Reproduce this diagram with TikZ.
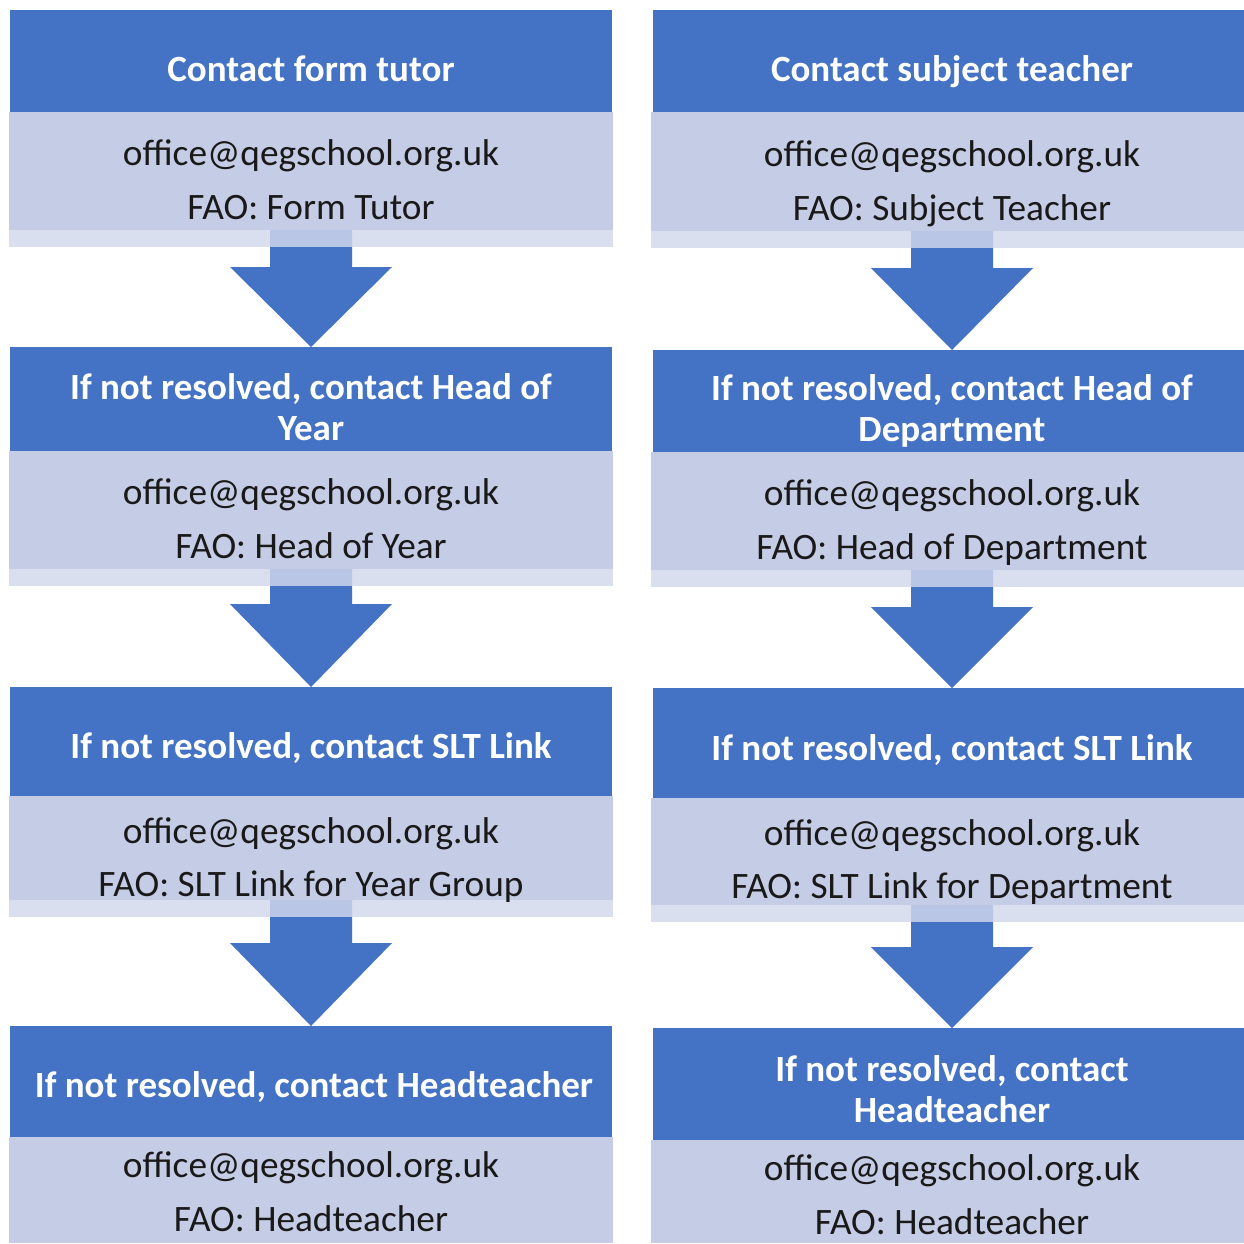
\documentclass[tikz,border=0pt]{standalone}
\usepackage{fontspec}
\setmainfont{Carlito}
\definecolor{hdr}{RGB}{68,114,196}
\definecolor{bdy}{RGB}{197,205,230}
\definecolor{strp}{RGB}{211,217,237}
\newcommand\qbody[4]{\fill[bdy] (#1,#3) rectangle (#2,#4);}
\newcommand\qstrip[4]{\fill[strp,fill opacity=0.82] (#1,#3) rectangle (#2,#4);}
\newcommand\qhead[4]{\fill[hdr] (#1,#3) rectangle (#2,#4);}
\newcommand\qarrow[4]{\fill[hdr] (#1-41,#2) -- (#1+41,#2) -- (#1+41,#3) -- (#1+81,#3) -- (#1,#4) -- (#1-81,#3) -- (#1-41,#3) -- cycle;}
\begin{document}
\begin{tikzpicture}[x=1pt,y=-1pt,
  htxt/.style={text=white,font=\fontsize{37}{41}\selectfont\bfseries,align=center,inner sep=0pt},
  btxt/.style={text=black!90,font=\fontsize{37.3}{40}\selectfont,inner sep=0pt}]
\useasboundingbox (0,0) rectangle (1244,1243);
\fill[white] (0,0) rectangle (1244,1243);
% ---- left column ----
\qbody{9}{613}{112}{230}
\qbody{9}{613}{451}{569}
\qbody{9}{613}{796}{900}
\qbody{9}{613}{1137}{1243}
\qarrow{311}{230}{267}{347}
\qarrow{311}{569}{604}{687}
\qarrow{311}{900}{943}{1026}
\qstrip{9}{613}{230}{247}
\qstrip{9}{613}{569}{586}
\qstrip{9}{613}{900}{917}
\qhead{10}{612}{10}{112}
\qhead{10}{612}{347}{451}
\qhead{10}{612}{687}{796}
\qhead{10}{612}{1026}{1137}
% ---- right column ----
\qbody{651}{1244}{112}{231}
\qbody{651}{1244}{452}{570}
\qbody{651}{1244}{798}{905}
\qbody{651}{1244}{1140}{1243}
\qarrow{952}{231}{268}{350}
\qarrow{952}{570}{607}{688}
\qarrow{952}{905}{947}{1028}
\qstrip{651}{1244}{231}{248}
\qstrip{651}{1244}{570}{587}
\qstrip{651}{1244}{905}{922}
\qhead{653}{1244}{10}{112}
\qhead{653}{1244}{350}{452}
\qhead{653}{1244}{688}{798}
\qhead{653}{1244}{1028}{1140}
% ---- texts left ----
\node[htxt] (L1h) at (311,69) {Contact form tutor};
\node[btxt] (L1a) at (311,156) {office@qegschool.org.uk};
\node[btxt] (L1b) at (311,208) {FAO: Form Tutor};
\node[htxt] (L2h) at (311,407) {If not resolved, contact Head of\\Year};
\node[btxt] (L2a) at (311,495) {office@qegschool.org.uk};
\node[btxt] (L2b) at (311,546) {FAO: Head of Year};
\node[htxt] (L3h) at (311,748) {If not resolved, contact SLT Link};
\node[btxt] (L3a) at (311,834) {office@qegschool.org.uk};
\node[btxt] (L3b) at (311,887) {FAO: SLT Link for Year Group};
\node[htxt] (L4h) at (314,1087) {If not resolved, contact Headteacher};
\node[btxt] (L4a) at (311,1168) {office@qegschool.org.uk};
\node[btxt] (L4b) at (311,1219) {FAO: Headteacher};
% ---- texts right ----
\node[htxt] (R1h) at (952,72) {Contact subject teacher};
\node[btxt] (R1a) at (952,157) {office@qegschool.org.uk};
\node[btxt] (R1b) at (952,211) {FAO: Subject Teacher};
\node[htxt] (R2h) at (952,411) {If not resolved, contact Head of\\Department};
\node[btxt] (R2a) at (952,496) {office@qegschool.org.uk};
\node[btxt] (R2b) at (952,550) {FAO: Head of Department};
\node[htxt] (R3h) at (952,750) {If not resolved, contact SLT Link};
\node[btxt] (R3a) at (952,836) {office@qegschool.org.uk};
\node[btxt] (R3b) at (952,889) {FAO: SLT Link for Department};
\node[htxt] (R4h) at (952,1089) {If not resolved, contact\\Headteacher};
\node[btxt] (R4a) at (952,1171) {office@qegschool.org.uk};
\node[btxt] (R4b) at (952,1222) {FAO: Headteacher};
\end{tikzpicture}
\end{document}
